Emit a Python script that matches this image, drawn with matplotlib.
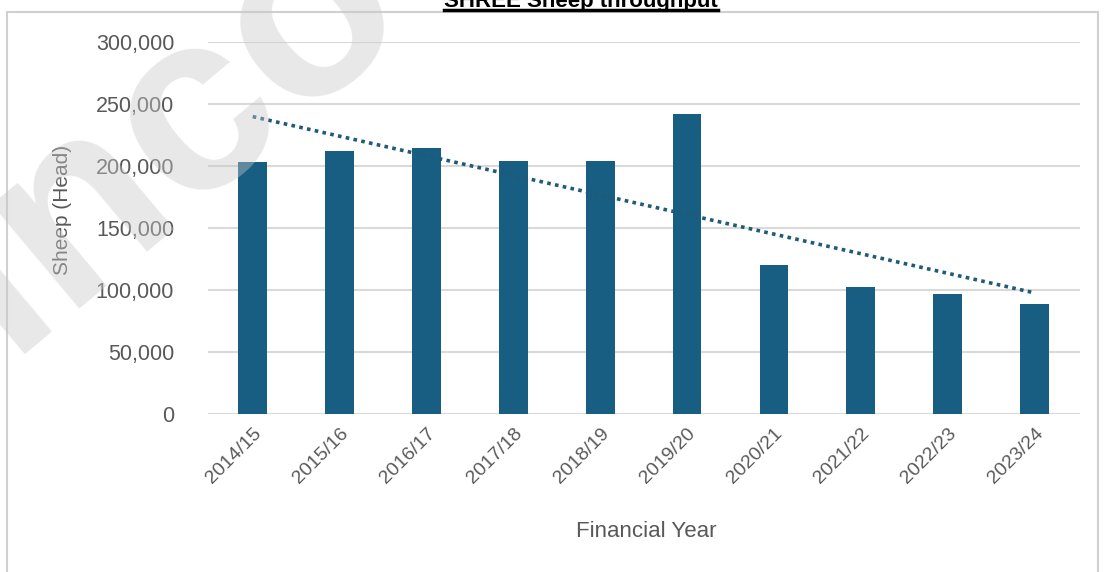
import numpy as np
import matplotlib.pyplot as plt
from matplotlib.patches import Rectangle
from matplotlib.lines import Line2D

# data
years = ['2014/15', '2015/16', '2016/17', '2017/18', '2018/19',
         '2019/20', '2020/21', '2021/22', '2022/23', '2023/24']
sheep = [203000, 212000, 214500, 204000, 204000,
         242000, 120000, 102500, 97000, 89000]
yticks = [0, 50000, 100000, 150000, 200000, 250000, 300000]

bar_col = '#175e82'
grey = '#595959'

plt.rcParams['font.family'] = ['Liberation Sans', 'DejaVu Sans']

fig = plt.figure(figsize=(11.04, 5.72), dpi=100)
ax = fig.add_axes([0.188, 0.276, 0.79, 0.6506])

x = np.arange(len(years))
ax.bar(x, sheep, width=0.33, color=bar_col, zorder=3)

# linear trendline
m, c = np.polyfit(x, sheep, 1)
ax.plot(x, m * x + c, linestyle=(0, (1, 1.2)), color='#1f5a78', lw=2.6, zorder=4)

ax.set_xlim(-0.52, 9.52)
ax.set_ylim(0, 300000)
ax.set_yticks(yticks)
ax.set_yticklabels([f'{v:,}' for v in yticks], color=grey, fontsize=15.5)
ax.set_xticks(x)
ax.set_xticklabels(years, rotation=45, ha='right', rotation_mode='anchor',
                   color=grey, fontsize=14)
ax.tick_params(length=0)
ax.tick_params(axis='y', pad=24)
ax.tick_params(axis='x', pad=8)
ax.grid(axis='y', color='#d9d9d9', lw=1.5, zorder=0)
for s in ax.spines.values():
    s.set_visible(False)

fig.text(0.057, 0.633, 'Sheep (Head)', rotation=90, ha='center', va='center',
         color=grey, fontsize=15)
fig.text(0.585, 0.07, 'Financial Year', ha='center', va='center',
         color=grey, fontsize=16)

# chart frame
fig.add_artist(Rectangle((7 / 1104, -0.01), 1091 / 1104, 1 - 12 / 572 + 0.01,
                         transform=fig.transFigure, fill=False,
                         edgecolor='#d0d0d0', lw=1.5))

# title, cut off at the top
t = fig.text(581 / 1104, 1 - 7 / 572, 'SHREE Sheep throughput', ha='center',
             va='baseline', fontsize=16, fontweight='bold', color='black')
fig.canvas.draw()
bb = t.get_window_extent().transformed(fig.transFigure.inverted())
fig.add_artist(Line2D([bb.x0, bb.x1], [1 - 10 / 572, 1 - 10 / 572],
                      transform=fig.transFigure, color='black', lw=2.5))

# watermark
fig.text(0.095, 0.66, 'Sinco', rotation=40, ha='center', va='center',
         fontsize=185, fontweight='bold', color='#c8c8c8', alpha=0.42,
         zorder=10)

fig.savefig('out.png', dpi=100)
